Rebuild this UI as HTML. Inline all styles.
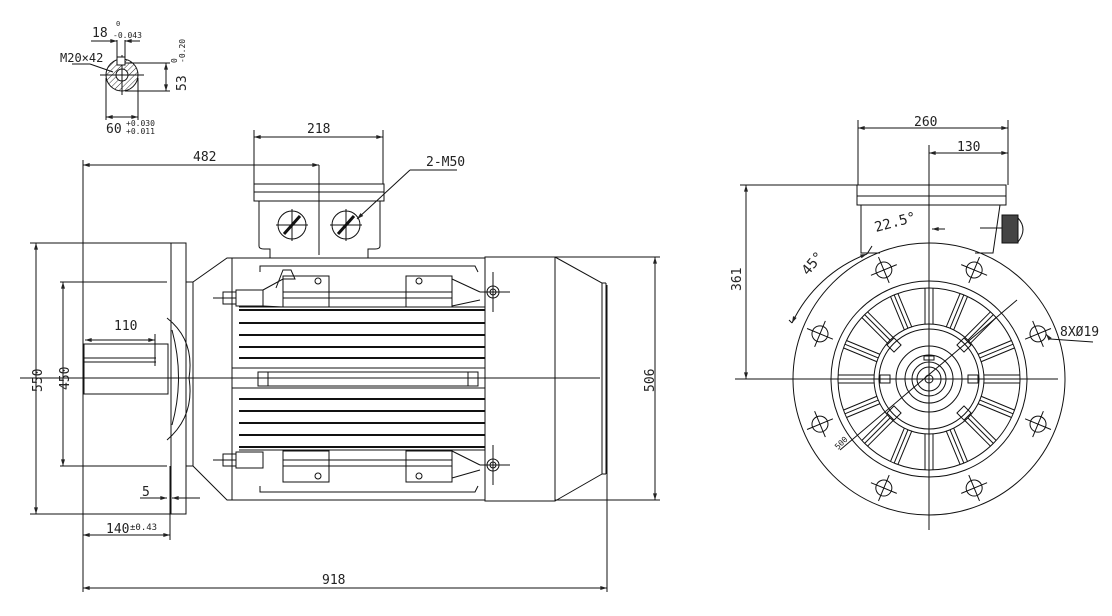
<!DOCTYPE html>
<html><head><meta charset="utf-8"><style>
html,body{margin:0;padding:0;background:#fff;}
svg{display:block}
text{font-family:"DejaVu Sans Mono","Liberation Mono",monospace;fill:#222;}
</style></head><body>
<svg width="1112" height="616" viewBox="0 0 1112 616" xmlns="http://www.w3.org/2000/svg">
<defs>
<marker id="a" viewBox="0 0 10 6" refX="10" refY="3" markerWidth="8" markerHeight="4" orient="auto-start-reverse"><path d="M0,0L10,3L0,6z" fill="#222"/></marker>
<pattern id="h" width="4" height="4" patternUnits="userSpaceOnUse" patternTransform="rotate(45)"><line x1="0" y1="0" x2="0" y2="4" stroke="#333" stroke-width="1"/></pattern>
<g id="hole" stroke="#111" fill="none"><circle cx="929" cy="261" r="8"/><line x1="915" y1="261" x2="943" y2="261"/><line x1="929" y1="247" x2="929" y2="275"/></g>
<g id="spk" stroke="#111"><line x1="925" y1="288" x2="925" y2="324"/><line x1="929" y1="288" x2="929" y2="324"/><line x1="933" y1="288" x2="933" y2="324"/></g>
</defs>
<g stroke="#111" stroke-width="1" fill="none">
<!-- shaft end view -->
<circle cx="122" cy="75" r="16" fill="url(#h)"/>
<circle cx="122" cy="75" r="6" fill="#fff"/>
<line x1="100" y1="75" x2="144" y2="75"/><line x1="122" y1="55" x2="122" y2="95"/>
<rect x="117" y="57" width="8" height="8" fill="#fff"/>
<line x1="117" y1="40" x2="117" y2="57"/><line x1="125" y1="40" x2="125" y2="57"/>
<line x1="91" y1="41" x2="117" y2="41" marker-end="url(#a)"/><line x1="140" y1="41" x2="125" y2="41" marker-end="url(#a)"/>
<line x1="125" y1="63" x2="170" y2="63"/><line x1="125" y1="91" x2="170" y2="91"/>
<line x1="166" y1="63" x2="166" y2="91" marker-start="url(#a)" marker-end="url(#a)"/>
<line x1="106" y1="78" x2="106" y2="120"/><line x1="138" y1="78" x2="138" y2="120"/>
<line x1="106" y1="117" x2="138" y2="117" marker-start="url(#a)" marker-end="url(#a)"/>
<line x1="72" y1="64" x2="90" y2="64"/><line x1="90" y1="64" x2="113" y2="72"/>

<!-- left view dims -->
<line x1="83" y1="160" x2="83" y2="592"/>
<line x1="83" y1="165" x2="319" y2="165" marker-start="url(#a)" marker-end="url(#a)"/>
<line x1="319" y1="165" x2="319" y2="255"/>
<line x1="254" y1="130" x2="254" y2="184"/><line x1="383" y1="130" x2="383" y2="184"/>
<line x1="254" y1="137" x2="383" y2="137" marker-start="url(#a)" marker-end="url(#a)"/>
<line x1="30" y1="243" x2="171" y2="243"/><line x1="30" y1="514" x2="186" y2="514"/>
<line x1="36" y1="243" x2="36" y2="514" marker-start="url(#a)" marker-end="url(#a)"/>
<line x1="60" y1="282" x2="167" y2="282"/><line x1="60" y1="466" x2="167" y2="466"/>
<line x1="63" y1="282" x2="63" y2="466" marker-start="url(#a)" marker-end="url(#a)"/>
<line x1="85" y1="340" x2="155" y2="340" marker-start="url(#a)" marker-end="url(#a)"/>
<line x1="155" y1="334" x2="155" y2="366"/>
<line x1="83" y1="535" x2="170" y2="535" marker-start="url(#a)" marker-end="url(#a)"/>
<line x1="170" y1="466" x2="170" y2="540"/>
<line x1="140" y1="498" x2="167" y2="498" marker-end="url(#a)"/><line x1="200" y1="498" x2="172" y2="498" marker-end="url(#a)"/>
<line x1="83" y1="588" x2="607" y2="588" marker-start="url(#a)" marker-end="url(#a)"/>
<line x1="607" y1="285" x2="607" y2="592"/>
<line x1="555" y1="257" x2="660" y2="257"/><line x1="555" y1="500" x2="660" y2="500"/>
<line x1="655" y1="257" x2="655" y2="500" marker-start="url(#a)" marker-end="url(#a)"/>
<line x1="20" y1="378" x2="600" y2="378"/>

<!-- flange + shaft -->
<rect x="171" y="243" width="15" height="271"/>
<rect x="186" y="282" width="7" height="184"/>
<rect x="84" y="344" width="84" height="50"/>
<line x1="84" y1="358" x2="156" y2="358"/><line x1="84" y1="362" x2="156" y2="362"/>
<path d="M167,318 Q195,340 189,378 Q195,416 167,440"/>
<path d="M172,330 Q185,378 172,425"/>
<path d="M193,282 L227,258 L232,258 M193,466 L227,500 L232,500"/>
<!-- terminal box -->
<rect x="254" y="184" width="130" height="17"/>
<line x1="254" y1="192" x2="384" y2="192"/>
<path d="M259,201 V246 Q259,249 264,249 H270 V258 M380,201 V246 Q380,249 375,249 H368 V258"/>
<circle cx="292" cy="225" r="14"/><circle cx="346" cy="225" r="14"/>
<line x1="276" y1="225" x2="308" y2="225"/><line x1="292" y1="209" x2="292" y2="241"/>
<line x1="330" y1="225" x2="362" y2="225"/><line x1="346" y1="209" x2="346" y2="241"/>
<line x1="284" y1="234" x2="300" y2="216" stroke-width="3"/><line x1="338" y1="234" x2="354" y2="216" stroke-width="3"/>
<line x1="410" y1="170" x2="457" y2="170"/><line x1="410" y1="170" x2="357" y2="219" marker-end="url(#a)"/>
<!-- body -->
<rect x="232" y="258" width="253" height="242"/>
<rect x="485" y="257" width="70" height="244"/>
<path d="M555,257 L602,283 V474 L555,501"/>
<line x1="602" y1="283" x2="606" y2="283"/><line x1="606" y1="283" x2="606" y2="474"/><line x1="602" y1="474" x2="606" y2="474"/>
<path d="M260,272 V266 H475 L478,272 M260,486 V492 H475 L478,486"/>
<g stroke-width="2">
<line x1="239" y1="310" x2="485" y2="310"/><line x1="239" y1="323" x2="485" y2="323"/><line x1="239" y1="335" x2="485" y2="335"/><line x1="239" y1="347" x2="485" y2="347"/><line x1="239" y1="358" x2="485" y2="358"/>
<line x1="239" y1="399" x2="485" y2="399"/><line x1="239" y1="411" x2="485" y2="411"/><line x1="239" y1="423" x2="485" y2="423"/><line x1="239" y1="435" x2="485" y2="435"/><line x1="239" y1="447" x2="485" y2="447"/>
</g>
<line x1="239" y1="307" x2="485" y2="307"/><line x1="239" y1="450" x2="485" y2="450"/>
<line x1="232" y1="368" x2="485" y2="368"/><line x1="232" y1="388" x2="485" y2="388"/>
<rect x="258" y="372" width="220" height="14"/>
<line x1="268" y1="372" x2="268" y2="386"/><line x1="468" y1="372" x2="468" y2="386"/>
<!-- feet top -->
<rect x="236" y="290" width="27" height="16"/><rect x="223" y="292" width="13" height="12"/><line x1="213" y1="298" x2="236" y2="298"/>
<path d="M263,290 L283,279 H295 L291,270 H283 L276,288"/>
<rect x="283" y="276" width="46" height="31"/><rect x="406" y="276" width="46" height="31"/>
<path d="M263,306 L283,307 M452,279 L480,292 M452,306 L480,300"/>
<line x1="283" y1="292" x2="452" y2="292"/><line x1="283" y1="298" x2="452" y2="298"/>
<circle cx="318" cy="281" r="3"/><circle cx="419" cy="281" r="3"/>
<!-- feet bottom -->
<rect x="236" y="452" width="27" height="16"/><rect x="223" y="454" width="13" height="12"/><line x1="213" y1="460" x2="236" y2="460"/>
<rect x="283" y="451" width="46" height="31"/><rect x="406" y="451" width="46" height="31"/>
<line x1="283" y1="460" x2="452" y2="460"/><line x1="283" y1="466" x2="452" y2="466"/>
<circle cx="318" cy="476" r="3"/><circle cx="419" cy="476" r="3"/>
<path d="M452,451 L480,465 M452,478 L480,470"/>
<circle cx="493" cy="292" r="6"/><circle cx="493" cy="292" r="3"/>
<line x1="480" y1="292" x2="510" y2="292"/><line x1="493" y1="272" x2="493" y2="312"/>
<circle cx="493" cy="465" r="6"/><circle cx="493" cy="465" r="3"/>
<line x1="480" y1="465" x2="510" y2="465"/><line x1="493" y1="445" x2="493" y2="485"/>

<!-- right view -->
<line x1="929" y1="145" x2="929" y2="530"/>
<line x1="735" y1="379" x2="1058" y2="379"/>
<line x1="858" y1="120" x2="858" y2="185"/><line x1="1008" y1="120" x2="1008" y2="185"/>
<line x1="858" y1="128" x2="1008" y2="128" marker-start="url(#a)" marker-end="url(#a)"/>
<line x1="929" y1="153" x2="1008" y2="153" marker-start="url(#a)" marker-end="url(#a)"/>
<line x1="740" y1="185" x2="860" y2="185"/>
<line x1="746" y1="185" x2="746" y2="379" marker-start="url(#a)" marker-end="url(#a)"/>
<rect x="857" y="185" width="149" height="20"/><line x1="857" y1="196" x2="1006" y2="196"/>
<path d="M861,205 V253 H880 M1000,205 L993,253 H975"/>
<rect x="1002" y="215" width="16" height="28" fill="#444"/>
<path d="M1018,218 Q1028,229 1018,242"/>
<line x1="980" y1="228" x2="1002" y2="228"/>
<line x1="945" y1="229" x2="932" y2="229" marker-end="url(#a)"/>
<circle cx="929" cy="379" r="136"/>
<circle cx="929" cy="379" r="98"/><circle cx="929" cy="379" r="91"/>
<circle cx="929" cy="379" r="55"/><circle cx="929" cy="379" r="50"/>
<circle cx="929" cy="379" r="33"/><circle cx="929" cy="379" r="24"/>
<circle cx="929" cy="379" r="17"/><circle cx="929" cy="379" r="12"/><circle cx="929" cy="379" r="4"/>
<use href="#spk"/>
<use href="#spk" transform="rotate(22.5 929 379)"/><use href="#spk" transform="rotate(45 929 379)"/><use href="#spk" transform="rotate(67.5 929 379)"/>
<use href="#spk" transform="rotate(90 929 379)"/><use href="#spk" transform="rotate(112.5 929 379)"/><use href="#spk" transform="rotate(135 929 379)"/>
<use href="#spk" transform="rotate(157.5 929 379)"/><use href="#spk" transform="rotate(180 929 379)"/><use href="#spk" transform="rotate(202.5 929 379)"/>
<use href="#spk" transform="rotate(225 929 379)"/><use href="#spk" transform="rotate(247.5 929 379)"/><use href="#spk" transform="rotate(270 929 379)"/>
<use href="#spk" transform="rotate(292.5 929 379)"/><use href="#spk" transform="rotate(315 929 379)"/><use href="#spk" transform="rotate(337.5 929 379)"/>
<use href="#hole" transform="rotate(22.5 929 379)"/><use href="#hole" transform="rotate(67.5 929 379)"/><use href="#hole" transform="rotate(112.5 929 379)"/><use href="#hole" transform="rotate(157.5 929 379)"/>
<use href="#hole" transform="rotate(202.5 929 379)"/><use href="#hole" transform="rotate(247.5 929 379)"/><use href="#hole" transform="rotate(292.5 929 379)"/><use href="#hole" transform="rotate(337.5 929 379)"/>
<rect x="889" y="340" width="10" height="10" transform="rotate(45 894 345)"/><rect x="959" y="340" width="10" height="10" transform="rotate(45 964 345)"/>
<rect x="889" y="408" width="10" height="10" transform="rotate(45 894 413)"/><rect x="959" y="408" width="10" height="10" transform="rotate(45 964 413)"/>
<rect x="880" y="375" width="10" height="8"/><rect x="968" y="375" width="10" height="8"/>
<rect x="924" y="356" width="10" height="4"/>
<line x1="840" y1="450" x2="1017" y2="300"/>
<line x1="1093" y1="342" x2="1050" y2="339"/>
<line x1="1050" y1="339" x2="1046" y2="334" marker-end="url(#a)"/>
<path d="M792,323 A136,136 0 0 1 867,254" marker-start="url(#a)" marker-end="url(#a)"/>
<line x1="792" y1="323" x2="789" y2="320"/><line x1="867" y1="254" x2="872" y2="246"/>
</g>
<g font-size="12">
<text x="92" y="37" font-size="13">18</text><text x="116" y="26" font-size="7">0</text><text x="113" y="38" font-size="8">-0.043</text>
<text x="60" y="62">M20×42</text>
<text x="106" y="133" font-size="13">60</text><text x="126" y="126" font-size="8">+0.030</text><text x="126" y="134" font-size="8">+0.011</text>
<text transform="translate(186,91) rotate(-90)" font-size="13">53</text>
<text transform="translate(177,63) rotate(-90)" font-size="8">0</text>
<text transform="translate(185,63) rotate(-90)" font-size="8">-0.20</text>
<text x="193" y="161" font-size="13">482</text><text x="307" y="133" font-size="13">218</text><text x="426" y="166" font-size="13">2-M50</text>
<text x="114" y="330" font-size="13">110</text>
<text transform="translate(42,392) rotate(-90)" font-size="13">550</text>
<text transform="translate(69,390) rotate(-90)" font-size="13">450</text>
<text transform="translate(654,392) rotate(-90)" font-size="13">506</text>
<text x="142" y="496" font-size="13">5</text>
<text x="106" y="533" font-size="13">140</text><text x="130" y="530" font-size="9">±0.43</text>
<text x="322" y="584" font-size="13">918</text>
<text x="914" y="126" font-size="13">260</text><text x="957" y="151" font-size="13">130</text>
<text transform="translate(741,291) rotate(-90)" font-size="13">361</text>
<text x="876" y="232" transform="rotate(-15 876 232)" font-size="14">22.5°</text>
<text x="808" y="276" transform="rotate(-50 808 276)" font-size="14">45°</text>
<text x="1060" y="336" font-size="13">8XØ19</text>
<text x="838" y="450" transform="rotate(-45 838 450)" font-size="8">500</text>
</g>
</svg>
</body></html>
